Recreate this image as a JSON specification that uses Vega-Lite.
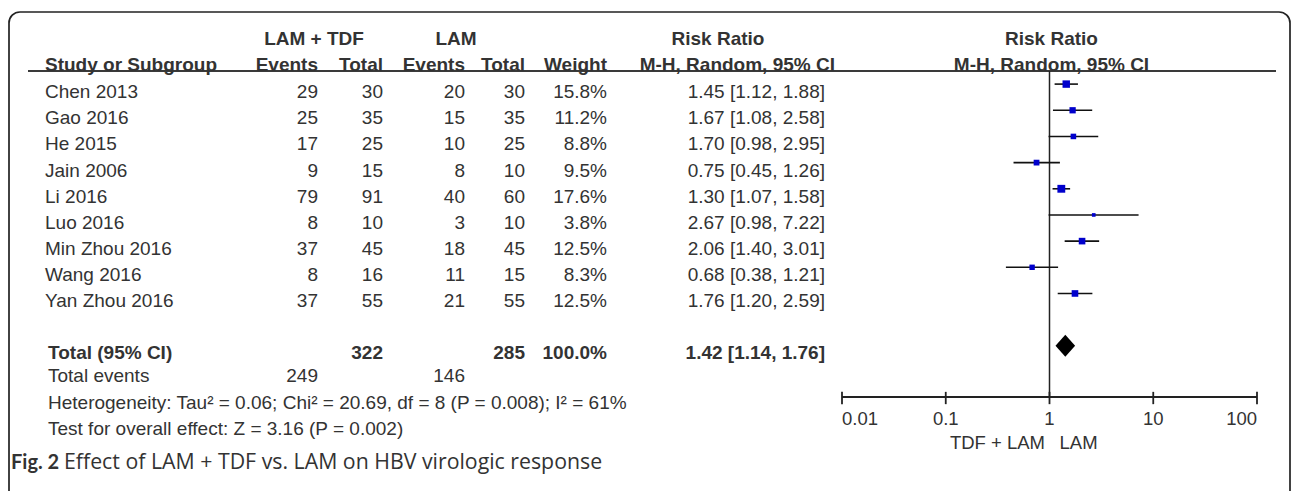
{
  "$schema": "https://vega.github.io/schema/vega-lite/v6.json",
  "width": 1292,
  "height": 491,
  "autosize": {"type": "none"},
  "padding": 0,
  "background": "white",
  "config": {
    "view": {"stroke": null},
    "text": {"font": "Liberation Sans", "fontSize": 19, "fill": "#333333", "baseline": "middle"}
  },
  "datasets": {
    "studies": [
      {"study": "Chen 2013", "e1": 29, "n1": 30, "e2": 20, "n2": 30, "weight": 0.158, "rr": 1.45, "lo": 1.12, "hi": 1.88, "ci": "1.45 [1.12, 1.88]", "row": 0},
      {"study": "Gao 2016", "e1": 25, "n1": 35, "e2": 15, "n2": 35, "weight": 0.112, "rr": 1.67, "lo": 1.08, "hi": 2.58, "ci": "1.67 [1.08, 2.58]", "row": 1},
      {"study": "He 2015", "e1": 17, "n1": 25, "e2": 10, "n2": 25, "weight": 0.088, "rr": 1.70, "lo": 0.98, "hi": 2.95, "ci": "1.70 [0.98, 2.95]", "row": 2},
      {"study": "Jain 2006", "e1": 9, "n1": 15, "e2": 8, "n2": 10, "weight": 0.095, "rr": 0.75, "lo": 0.45, "hi": 1.26, "ci": "0.75 [0.45, 1.26]", "row": 3},
      {"study": "Li 2016", "e1": 79, "n1": 91, "e2": 40, "n2": 60, "weight": 0.176, "rr": 1.30, "lo": 1.07, "hi": 1.58, "ci": "1.30 [1.07, 1.58]", "row": 4},
      {"study": "Luo 2016", "e1": 8, "n1": 10, "e2": 3, "n2": 10, "weight": 0.038, "rr": 2.67, "lo": 0.98, "hi": 7.22, "ci": "2.67 [0.98, 7.22]", "row": 5},
      {"study": "Min Zhou 2016", "e1": 37, "n1": 45, "e2": 18, "n2": 45, "weight": 0.125, "rr": 2.06, "lo": 1.40, "hi": 3.01, "ci": "2.06 [1.40, 3.01]", "row": 6},
      {"study": "Wang 2016", "e1": 8, "n1": 16, "e2": 11, "n2": 15, "weight": 0.083, "rr": 0.68, "lo": 0.38, "hi": 1.21, "ci": "0.68 [0.38, 1.21]", "row": 7},
      {"study": "Yan Zhou 2016", "e1": 37, "n1": 55, "e2": 21, "n2": 55, "weight": 0.125, "rr": 1.76, "lo": 1.20, "hi": 2.59, "ci": "1.76 [1.20, 2.59]", "row": 8}
    ],
    "total": [
      {"label": "Total (95% CI)", "n1": 322, "n2": 285, "weight": 1.0, "rr": 1.42, "lo": 1.14, "hi": 1.76, "ci": "1.42 [1.14, 1.76]", "row": 10}
    ],
    "footer": [
      {"text": "Total events", "row": 11},
      {"text": "Heterogeneity: Tau² = 0.06; Chi² = 20.69, df = 8 (P = 0.008); I² = 61%", "row": 12},
      {"text": "Test for overall effect: Z = 3.16 (P = 0.002)", "row": 13}
    ],
    "events": [
      {"e1": 249, "e2": 146, "row": 11}
    ],
    "ticks": [
      {"v": 0.01, "label": "0.01"},
      {"v": 0.1, "label": "0.1"},
      {"v": 1, "label": "1"},
      {"v": 10, "label": "10"},
      {"v": 100, "label": "100"}
    ]
  },
  "resolve": {"scale": {"x": "independent"}},
  "layer": [
    {
      "data": {"values": [{}]},
      "mark": {"type": "rect", "fill": "transparent", "stroke": "#222222", "strokeWidth": 1.7, "cornerRadius": 11},
      "encoding": {
        "x": {"datum": 0, "type": "quantitative", "scale": {"type": "linear", "domain": [0,1,2,3,4,5,6,7,8,9,10], "range": [9,28,45,318,383,465,525,607,825,1276,1290], "nice": false, "zero": false}, "axis": null},
        "x2": {"datum": 10},
        "y": {"datum": -2.755, "type": "quantitative", "scale": {"domain": [-3.2136, 15.5483], "range": [0, 491], "nice": false, "zero": false}, "axis": null},
        "y2": {"datum": 16.5}
      }
    },
    {
      "data": {"values": [{}]},
      "mark": {"type": "rule", "stroke": "#3a3a3a", "strokeWidth": 2},
      "encoding": {
        "x": {"datum": 1, "type": "quantitative", "scale": {"type": "linear", "domain": [0,1,2,3,4,5,6,7,8,9,10], "range": [9,28,45,318,383,465,525,607,825,1276,1290], "nice": false, "zero": false}, "axis": null},
        "x2": {"datum": 9},
        "y": {"datum": -0.5, "type": "quantitative", "scale": {"domain": [-3.2136, 15.5483], "range": [0, 491], "nice": false, "zero": false}, "axis": null}
      }
    },
    {
      "data": {"values": [{}]},
      "mark": {"type": "rule", "stroke": "#222222", "strokeWidth": 1.5},
      "encoding": {
        "x": {"datum": 1, "type": "quantitative", "scale": {"type": "log", "domain": [0.01, 100], "range": [842, 1257], "nice": false}, "axis": null},
        "y": {"datum": -0.5, "type": "quantitative", "scale": {"domain": [-3.2136, 15.5483], "range": [0, 491], "nice": false, "zero": false}, "axis": null},
        "y2": {"datum": 11.957}
      }
    },
    {
      "data": {"values": [{}]},
      "mark": {"type": "rule", "stroke": "#222222", "strokeWidth": 1.8},
      "encoding": {
        "x": {"datum": 0.01, "type": "quantitative", "scale": {"type": "log", "domain": [0.01, 100], "range": [842, 1257], "nice": false}, "axis": null},
        "x2": {"datum": 100},
        "y": {"datum": 11.957, "type": "quantitative", "scale": {"domain": [-3.2136, 15.5483], "range": [0, 491], "nice": false, "zero": false}, "axis": null}
      }
    },
    {
      "data": {"name": "ticks"},
      "mark": {"type": "rule", "stroke": "#222222", "strokeWidth": 1.8},
      "encoding": {
        "x": {"field": "v", "type": "quantitative", "scale": {"type": "log", "domain": [0.01, 100], "range": [842, 1257], "nice": false}, "axis": null},
        "y": {"datum": 11.76, "type": "quantitative", "scale": {"domain": [-3.2136, 15.5483], "range": [0, 491], "nice": false, "zero": false}, "axis": null},
        "y2": {"datum": 12.23}
      }
    },
    {
      "data": {"name": "ticks"},
      "transform": [{"filter": "datum.v == 0.01"}],
      "mark": {"type": "text", "align": "left", "fontSize": 18.5, "dy": 1},
      "encoding": {
        "x": {"field": "v", "type": "quantitative", "scale": {"type": "log", "domain": [0.01, 100], "range": [842, 1257], "nice": false}, "axis": null},
        "y": {"datum": 12.77, "type": "quantitative", "scale": {"domain": [-3.2136, 15.5483], "range": [0, 491], "nice": false, "zero": false}, "axis": null},
        "text": {"field": "label"}
      }
    },
    {
      "data": {"name": "ticks"},
      "transform": [{"filter": "datum.v > 0.01 && datum.v < 100"}],
      "mark": {"type": "text", "align": "center", "fontSize": 18.5, "dy": 1},
      "encoding": {
        "x": {"field": "v", "type": "quantitative", "scale": {"type": "log", "domain": [0.01, 100], "range": [842, 1257], "nice": false}, "axis": null},
        "y": {"datum": 12.77, "type": "quantitative", "scale": {"domain": [-3.2136, 15.5483], "range": [0, 491], "nice": false, "zero": false}, "axis": null},
        "text": {"field": "label"}
      }
    },
    {
      "data": {"name": "ticks"},
      "transform": [{"filter": "datum.v == 100"}],
      "mark": {"type": "text", "align": "right", "fontSize": 18.5, "dy": 1},
      "encoding": {
        "x": {"field": "v", "type": "quantitative", "scale": {"type": "log", "domain": [0.01, 100], "range": [842, 1257], "nice": false}, "axis": null},
        "y": {"datum": 12.77, "type": "quantitative", "scale": {"domain": [-3.2136, 15.5483], "range": [0, 491], "nice": false, "zero": false}, "axis": null},
        "text": {"field": "label"}
      }
    },
    {
      "data": {"values": [{"text": "TDF + LAM"}]},
      "mark": {"type": "text", "align": "right", "fontSize": 18.5, "dx": -4.5, "dy": 1},
      "encoding": {
        "x": {"datum": 1, "type": "quantitative", "scale": {"type": "log", "domain": [0.01, 100], "range": [842, 1257], "nice": false}, "axis": null},
        "y": {"datum": 13.665, "type": "quantitative", "scale": {"domain": [-3.2136, 15.5483], "range": [0, 491], "nice": false, "zero": false}, "axis": null},
        "text": {"field": "text"}
      }
    },
    {
      "data": {"values": [{"text": "LAM"}]},
      "mark": {"type": "text", "align": "left", "fontSize": 18.5, "dx": 10, "dy": 1},
      "encoding": {
        "x": {"datum": 1, "type": "quantitative", "scale": {"type": "log", "domain": [0.01, 100], "range": [842, 1257], "nice": false}, "axis": null},
        "y": {"datum": 13.665, "type": "quantitative", "scale": {"domain": [-3.2136, 15.5483], "range": [0, 491], "nice": false, "zero": false}, "axis": null},
        "text": {"field": "text"}
      }
    },
    {
      "data": {"name": "studies"},
      "mark": {"type": "rule", "stroke": "#111111", "strokeWidth": 1.6},
      "encoding": {
        "x": {"field": "lo", "type": "quantitative", "scale": {"type": "log", "domain": [0.01, 100], "range": [842, 1257], "nice": false}, "axis": null},
        "x2": {"field": "hi"},
        "y": {"field": "row", "type": "quantitative", "scale": {"domain": [-3.2136, 15.5483], "range": [0, 491], "nice": false, "zero": false}, "axis": null}
      }
    },
    {
      "data": {"name": "studies"},
      "mark": {"type": "point", "shape": "square", "filled": true, "color": "#0000cc", "opacity": 1, "strokeWidth": 0},
      "encoding": {
        "x": {"field": "rr", "type": "quantitative", "scale": {"type": "log", "domain": [0.01, 100], "range": [842, 1257], "nice": false}, "axis": null},
        "y": {"field": "row", "type": "quantitative", "scale": {"domain": [-3.2136, 15.5483], "range": [0, 491], "nice": false, "zero": false}, "axis": null},
        "size": {"field": "weight", "type": "quantitative", "scale": {"type": "linear", "domain": [0, 1], "range": [0, 350], "zero": true}, "legend": null}
      }
    },
    {
      "data": {"name": "total"},
      "mark": {"type": "point", "shape": "M-1,0L0,-1.12L1,0L0,1.12Z", "filled": true, "color": "#000000", "opacity": 1, "strokeWidth": 0, "size": 384},
      "encoding": {
        "x": {"field": "rr", "type": "quantitative", "scale": {"type": "log", "domain": [0.01, 100], "range": [842, 1257], "nice": false}, "axis": null},
        "y": {"field": "row", "type": "quantitative", "scale": {"domain": [-3.2136, 15.5483], "range": [0, 491], "nice": false, "zero": false}, "axis": null}
      }
    },
    {
      "data": {"name": "studies"},
      "mark": {"type": "text", "align": "left", "dy": 8},
      "encoding": {
        "x": {"datum": 2, "type": "quantitative", "scale": {"type": "linear", "domain": [0,1,2,3,4,5,6,7,8,9,10], "range": [9,28,45,318,383,465,525,607,825,1276,1290], "nice": false, "zero": false}, "axis": null},
        "y": {"field": "row", "type": "quantitative", "scale": {"domain": [-3.2136, 15.5483], "range": [0, 491], "nice": false, "zero": false}, "axis": null},
        "text": {"field": "study"}
      }
    },
    {
      "data": {"name": "studies"},
      "mark": {"type": "text", "align": "right", "dy": 8},
      "encoding": {
        "x": {"datum": 3, "type": "quantitative", "scale": {"type": "linear", "domain": [0,1,2,3,4,5,6,7,8,9,10], "range": [9,28,45,318,383,465,525,607,825,1276,1290], "nice": false, "zero": false}, "axis": null},
        "y": {"field": "row", "type": "quantitative", "scale": {"domain": [-3.2136, 15.5483], "range": [0, 491], "nice": false, "zero": false}, "axis": null},
        "text": {"field": "e1", "type": "quantitative", "format": "d"}
      }
    },
    {
      "data": {"name": "studies"},
      "mark": {"type": "text", "align": "right", "dy": 8},
      "encoding": {
        "x": {"datum": 4, "type": "quantitative", "scale": {"type": "linear", "domain": [0,1,2,3,4,5,6,7,8,9,10], "range": [9,28,45,318,383,465,525,607,825,1276,1290], "nice": false, "zero": false}, "axis": null},
        "y": {"field": "row", "type": "quantitative", "scale": {"domain": [-3.2136, 15.5483], "range": [0, 491], "nice": false, "zero": false}, "axis": null},
        "text": {"field": "n1", "type": "quantitative", "format": "d"}
      }
    },
    {
      "data": {"name": "studies"},
      "mark": {"type": "text", "align": "right", "dy": 8},
      "encoding": {
        "x": {"datum": 5, "type": "quantitative", "scale": {"type": "linear", "domain": [0,1,2,3,4,5,6,7,8,9,10], "range": [9,28,45,318,383,465,525,607,825,1276,1290], "nice": false, "zero": false}, "axis": null},
        "y": {"field": "row", "type": "quantitative", "scale": {"domain": [-3.2136, 15.5483], "range": [0, 491], "nice": false, "zero": false}, "axis": null},
        "text": {"field": "e2", "type": "quantitative", "format": "d"}
      }
    },
    {
      "data": {"name": "studies"},
      "mark": {"type": "text", "align": "right", "dy": 8},
      "encoding": {
        "x": {"datum": 6, "type": "quantitative", "scale": {"type": "linear", "domain": [0,1,2,3,4,5,6,7,8,9,10], "range": [9,28,45,318,383,465,525,607,825,1276,1290], "nice": false, "zero": false}, "axis": null},
        "y": {"field": "row", "type": "quantitative", "scale": {"domain": [-3.2136, 15.5483], "range": [0, 491], "nice": false, "zero": false}, "axis": null},
        "text": {"field": "n2", "type": "quantitative", "format": "d"}
      }
    },
    {
      "data": {"name": "studies"},
      "mark": {"type": "text", "align": "right", "dy": 8},
      "encoding": {
        "x": {"datum": 7, "type": "quantitative", "scale": {"type": "linear", "domain": [0,1,2,3,4,5,6,7,8,9,10], "range": [9,28,45,318,383,465,525,607,825,1276,1290], "nice": false, "zero": false}, "axis": null},
        "y": {"field": "row", "type": "quantitative", "scale": {"domain": [-3.2136, 15.5483], "range": [0, 491], "nice": false, "zero": false}, "axis": null},
        "text": {"field": "weight", "type": "quantitative", "format": ".1%"}
      }
    },
    {
      "data": {"name": "studies"},
      "mark": {"type": "text", "align": "right", "dy": 8},
      "encoding": {
        "x": {"datum": 8, "type": "quantitative", "scale": {"type": "linear", "domain": [0,1,2,3,4,5,6,7,8,9,10], "range": [9,28,45,318,383,465,525,607,825,1276,1290], "nice": false, "zero": false}, "axis": null},
        "y": {"field": "row", "type": "quantitative", "scale": {"domain": [-3.2136, 15.5483], "range": [0, 491], "nice": false, "zero": false}, "axis": null},
        "text": {"field": "ci"}
      }
    },
    {
      "data": {"values": [{"text": "Study or Subgroup", "col": 2, "row": -1}]},
      "mark": {"type": "text", "align": "left", "fontWeight": "bold", "dy": 7},
      "encoding": {
        "x": {"field": "col", "type": "quantitative", "scale": {"type": "linear", "domain": [0,1,2,3,4,5,6,7,8,9,10], "range": [9,28,45,318,383,465,525,607,825,1276,1290], "nice": false, "zero": false}, "axis": null},
        "y": {"field": "row", "type": "quantitative", "scale": {"domain": [-3.2136, 15.5483], "range": [0, 491], "nice": false, "zero": false}, "axis": null},
        "text": {"field": "text"}
      }
    },
    {
      "data": {"values": [
        {"text": "Events", "col": 3, "row": -1},
        {"text": "Total", "col": 4, "row": -1},
        {"text": "Events", "col": 5, "row": -1},
        {"text": "Total", "col": 6, "row": -1},
        {"text": "Weight", "col": 7, "row": -1}
      ]},
      "mark": {"type": "text", "align": "right", "fontWeight": "bold", "dy": 7},
      "encoding": {
        "x": {"field": "col", "type": "quantitative", "scale": {"type": "linear", "domain": [0,1,2,3,4,5,6,7,8,9,10], "range": [9,28,45,318,383,465,525,607,825,1276,1290], "nice": false, "zero": false}, "axis": null},
        "y": {"field": "row", "type": "quantitative", "scale": {"domain": [-3.2136, 15.5483], "range": [0, 491], "nice": false, "zero": false}, "axis": null},
        "text": {"field": "text"}
      }
    },
    {
      "data": {"values": [{"text": "M-H, Random, 95% CI", "col": 8, "row": -1}]},
      "mark": {"type": "text", "align": "right", "fontWeight": "bold", "dy": 7, "dx": 10},
      "encoding": {
        "x": {"field": "col", "type": "quantitative", "scale": {"type": "linear", "domain": [0,1,2,3,4,5,6,7,8,9,10], "range": [9,28,45,318,383,465,525,607,825,1276,1290], "nice": false, "zero": false}, "axis": null},
        "y": {"field": "row", "type": "quantitative", "scale": {"domain": [-3.2136, 15.5483], "range": [0, 491], "nice": false, "zero": false}, "axis": null},
        "text": {"field": "text"}
      }
    },
    {
      "data": {"values": [{"text": "LAM + TDF", "col": 3, "row": -2}]},
      "mark": {"type": "text", "align": "center", "fontWeight": "bold", "dy": 7, "dx": -4},
      "encoding": {
        "x": {"field": "col", "type": "quantitative", "scale": {"type": "linear", "domain": [0,1,2,3,4,5,6,7,8,9,10], "range": [9,28,45,318,383,465,525,607,825,1276,1290], "nice": false, "zero": false}, "axis": null},
        "y": {"field": "row", "type": "quantitative", "scale": {"domain": [-3.2136, 15.5483], "range": [0, 491], "nice": false, "zero": false}, "axis": null},
        "text": {"field": "text"}
      }
    },
    {
      "data": {"values": [{"text": "LAM", "col": 5, "row": -2}]},
      "mark": {"type": "text", "align": "center", "fontWeight": "bold", "dy": 7, "dx": -9},
      "encoding": {
        "x": {"field": "col", "type": "quantitative", "scale": {"type": "linear", "domain": [0,1,2,3,4,5,6,7,8,9,10], "range": [9,28,45,318,383,465,525,607,825,1276,1290], "nice": false, "zero": false}, "axis": null},
        "y": {"field": "row", "type": "quantitative", "scale": {"domain": [-3.2136, 15.5483], "range": [0, 491], "nice": false, "zero": false}, "axis": null},
        "text": {"field": "text"}
      }
    },
    {
      "data": {"values": [{"text": "Risk Ratio", "col": 8, "row": -2}]},
      "mark": {"type": "text", "align": "center", "fontWeight": "bold", "dy": 7, "dx": -107},
      "encoding": {
        "x": {"field": "col", "type": "quantitative", "scale": {"type": "linear", "domain": [0,1,2,3,4,5,6,7,8,9,10], "range": [9,28,45,318,383,465,525,607,825,1276,1290], "nice": false, "zero": false}, "axis": null},
        "y": {"field": "row", "type": "quantitative", "scale": {"domain": [-3.2136, 15.5483], "range": [0, 491], "nice": false, "zero": false}, "axis": null},
        "text": {"field": "text"}
      }
    },
    {
      "data": {"values": [{"text": "Risk Ratio", "at": 1, "row": -2}, {"text": "M-H, Random, 95% CI", "at": 1, "row": -1}]},
      "mark": {"type": "text", "align": "center", "fontWeight": "bold", "dy": 7, "dx": 2},
      "encoding": {
        "x": {"field": "at", "type": "quantitative", "scale": {"type": "log", "domain": [0.01, 100], "range": [842, 1257], "nice": false}, "axis": null},
        "y": {"field": "row", "type": "quantitative", "scale": {"domain": [-3.2136, 15.5483], "range": [0, 491], "nice": false, "zero": false}, "axis": null},
        "text": {"field": "text"}
      }
    },
    {
      "data": {"name": "total"},
      "mark": {"type": "text", "align": "left", "fontWeight": "bold", "dy": 7, "dx": 3},
      "encoding": {
        "x": {"datum": 2, "type": "quantitative", "scale": {"type": "linear", "domain": [0,1,2,3,4,5,6,7,8,9,10], "range": [9,28,45,318,383,465,525,607,825,1276,1290], "nice": false, "zero": false}, "axis": null},
        "y": {"field": "row", "type": "quantitative", "scale": {"domain": [-3.2136, 15.5483], "range": [0, 491], "nice": false, "zero": false}, "axis": null},
        "text": {"field": "label"}
      }
    },
    {
      "data": {"name": "total"},
      "mark": {"type": "text", "align": "right", "fontWeight": "bold", "dy": 7},
      "encoding": {
        "x": {"datum": 4, "type": "quantitative", "scale": {"type": "linear", "domain": [0,1,2,3,4,5,6,7,8,9,10], "range": [9,28,45,318,383,465,525,607,825,1276,1290], "nice": false, "zero": false}, "axis": null},
        "y": {"field": "row", "type": "quantitative", "scale": {"domain": [-3.2136, 15.5483], "range": [0, 491], "nice": false, "zero": false}, "axis": null},
        "text": {"field": "n1", "type": "quantitative", "format": "d"}
      }
    },
    {
      "data": {"name": "total"},
      "mark": {"type": "text", "align": "right", "fontWeight": "bold", "dy": 7},
      "encoding": {
        "x": {"datum": 6, "type": "quantitative", "scale": {"type": "linear", "domain": [0,1,2,3,4,5,6,7,8,9,10], "range": [9,28,45,318,383,465,525,607,825,1276,1290], "nice": false, "zero": false}, "axis": null},
        "y": {"field": "row", "type": "quantitative", "scale": {"domain": [-3.2136, 15.5483], "range": [0, 491], "nice": false, "zero": false}, "axis": null},
        "text": {"field": "n2", "type": "quantitative", "format": "d"}
      }
    },
    {
      "data": {"name": "total"},
      "mark": {"type": "text", "align": "right", "fontWeight": "bold", "dy": 7},
      "encoding": {
        "x": {"datum": 7, "type": "quantitative", "scale": {"type": "linear", "domain": [0,1,2,3,4,5,6,7,8,9,10], "range": [9,28,45,318,383,465,525,607,825,1276,1290], "nice": false, "zero": false}, "axis": null},
        "y": {"field": "row", "type": "quantitative", "scale": {"domain": [-3.2136, 15.5483], "range": [0, 491], "nice": false, "zero": false}, "axis": null},
        "text": {"field": "weight", "type": "quantitative", "format": ".1%"}
      }
    },
    {
      "data": {"name": "total"},
      "mark": {"type": "text", "align": "right", "fontWeight": "bold", "dy": 7},
      "encoding": {
        "x": {"datum": 8, "type": "quantitative", "scale": {"type": "linear", "domain": [0,1,2,3,4,5,6,7,8,9,10], "range": [9,28,45,318,383,465,525,607,825,1276,1290], "nice": false, "zero": false}, "axis": null},
        "y": {"field": "row", "type": "quantitative", "scale": {"domain": [-3.2136, 15.5483], "range": [0, 491], "nice": false, "zero": false}, "axis": null},
        "text": {"field": "ci"}
      }
    },
    {
      "data": {"name": "footer"},
      "mark": {"type": "text", "align": "left", "dy": 4.5, "dx": 3},
      "encoding": {
        "x": {"datum": 2, "type": "quantitative", "scale": {"type": "linear", "domain": [0,1,2,3,4,5,6,7,8,9,10], "range": [9,28,45,318,383,465,525,607,825,1276,1290], "nice": false, "zero": false}, "axis": null},
        "y": {"field": "row", "type": "quantitative", "scale": {"domain": [-3.2136, 15.5483], "range": [0, 491], "nice": false, "zero": false}, "axis": null},
        "text": {"field": "text"}
      }
    },
    {
      "data": {"name": "events"},
      "mark": {"type": "text", "align": "right", "dy": 4.5},
      "encoding": {
        "x": {"datum": 3, "type": "quantitative", "scale": {"type": "linear", "domain": [0,1,2,3,4,5,6,7,8,9,10], "range": [9,28,45,318,383,465,525,607,825,1276,1290], "nice": false, "zero": false}, "axis": null},
        "y": {"field": "row", "type": "quantitative", "scale": {"domain": [-3.2136, 15.5483], "range": [0, 491], "nice": false, "zero": false}, "axis": null},
        "text": {"field": "e1", "type": "quantitative", "format": "d"}
      }
    },
    {
      "data": {"name": "events"},
      "mark": {"type": "text", "align": "right", "dy": 4.5},
      "encoding": {
        "x": {"datum": 5, "type": "quantitative", "scale": {"type": "linear", "domain": [0,1,2,3,4,5,6,7,8,9,10], "range": [9,28,45,318,383,465,525,607,825,1276,1290], "nice": false, "zero": false}, "axis": null},
        "y": {"field": "row", "type": "quantitative", "scale": {"domain": [-3.2136, 15.5483], "range": [0, 491], "nice": false, "zero": false}, "axis": null},
        "text": {"field": "e2", "type": "quantitative", "format": "d"}
      }
    },
    {
      "data": {"values": [{"text": "Fig. 2"}]},
      "mark": {"type": "text", "align": "left", "font": "Lato", "fontSize": 20, "fontWeight": "bold", "fill": "#333333", "dx": 2, "dy": 1},
      "encoding": {
        "x": {"datum": 0, "type": "quantitative", "scale": {"type": "linear", "domain": [0,1,2,3,4,5,6,7,8,9,10], "range": [9,28,45,318,383,465,525,607,825,1276,1290], "nice": false, "zero": false}, "axis": null},
        "y": {"datum": 14.44, "type": "quantitative", "scale": {"domain": [-3.2136, 15.5483], "range": [0, 491], "nice": false, "zero": false}, "axis": null},
        "text": {"field": "text"}
      }
    },
    {
      "data": {"values": [{"text": "Effect of LAM + TDF vs. LAM on HBV virologic response"}]},
      "mark": {"type": "text", "align": "left", "font": "Open Sans", "fontSize": 21.3, "fill": "#333333", "dx": 55, "dy": 1},
      "encoding": {
        "x": {"datum": 0, "type": "quantitative", "scale": {"type": "linear", "domain": [0,1,2,3,4,5,6,7,8,9,10], "range": [9,28,45,318,383,465,525,607,825,1276,1290], "nice": false, "zero": false}, "axis": null},
        "y": {"datum": 14.44, "type": "quantitative", "scale": {"domain": [-3.2136, 15.5483], "range": [0, 491], "nice": false, "zero": false}, "axis": null},
        "text": {"field": "text"}
      }
    }
  ]
}
